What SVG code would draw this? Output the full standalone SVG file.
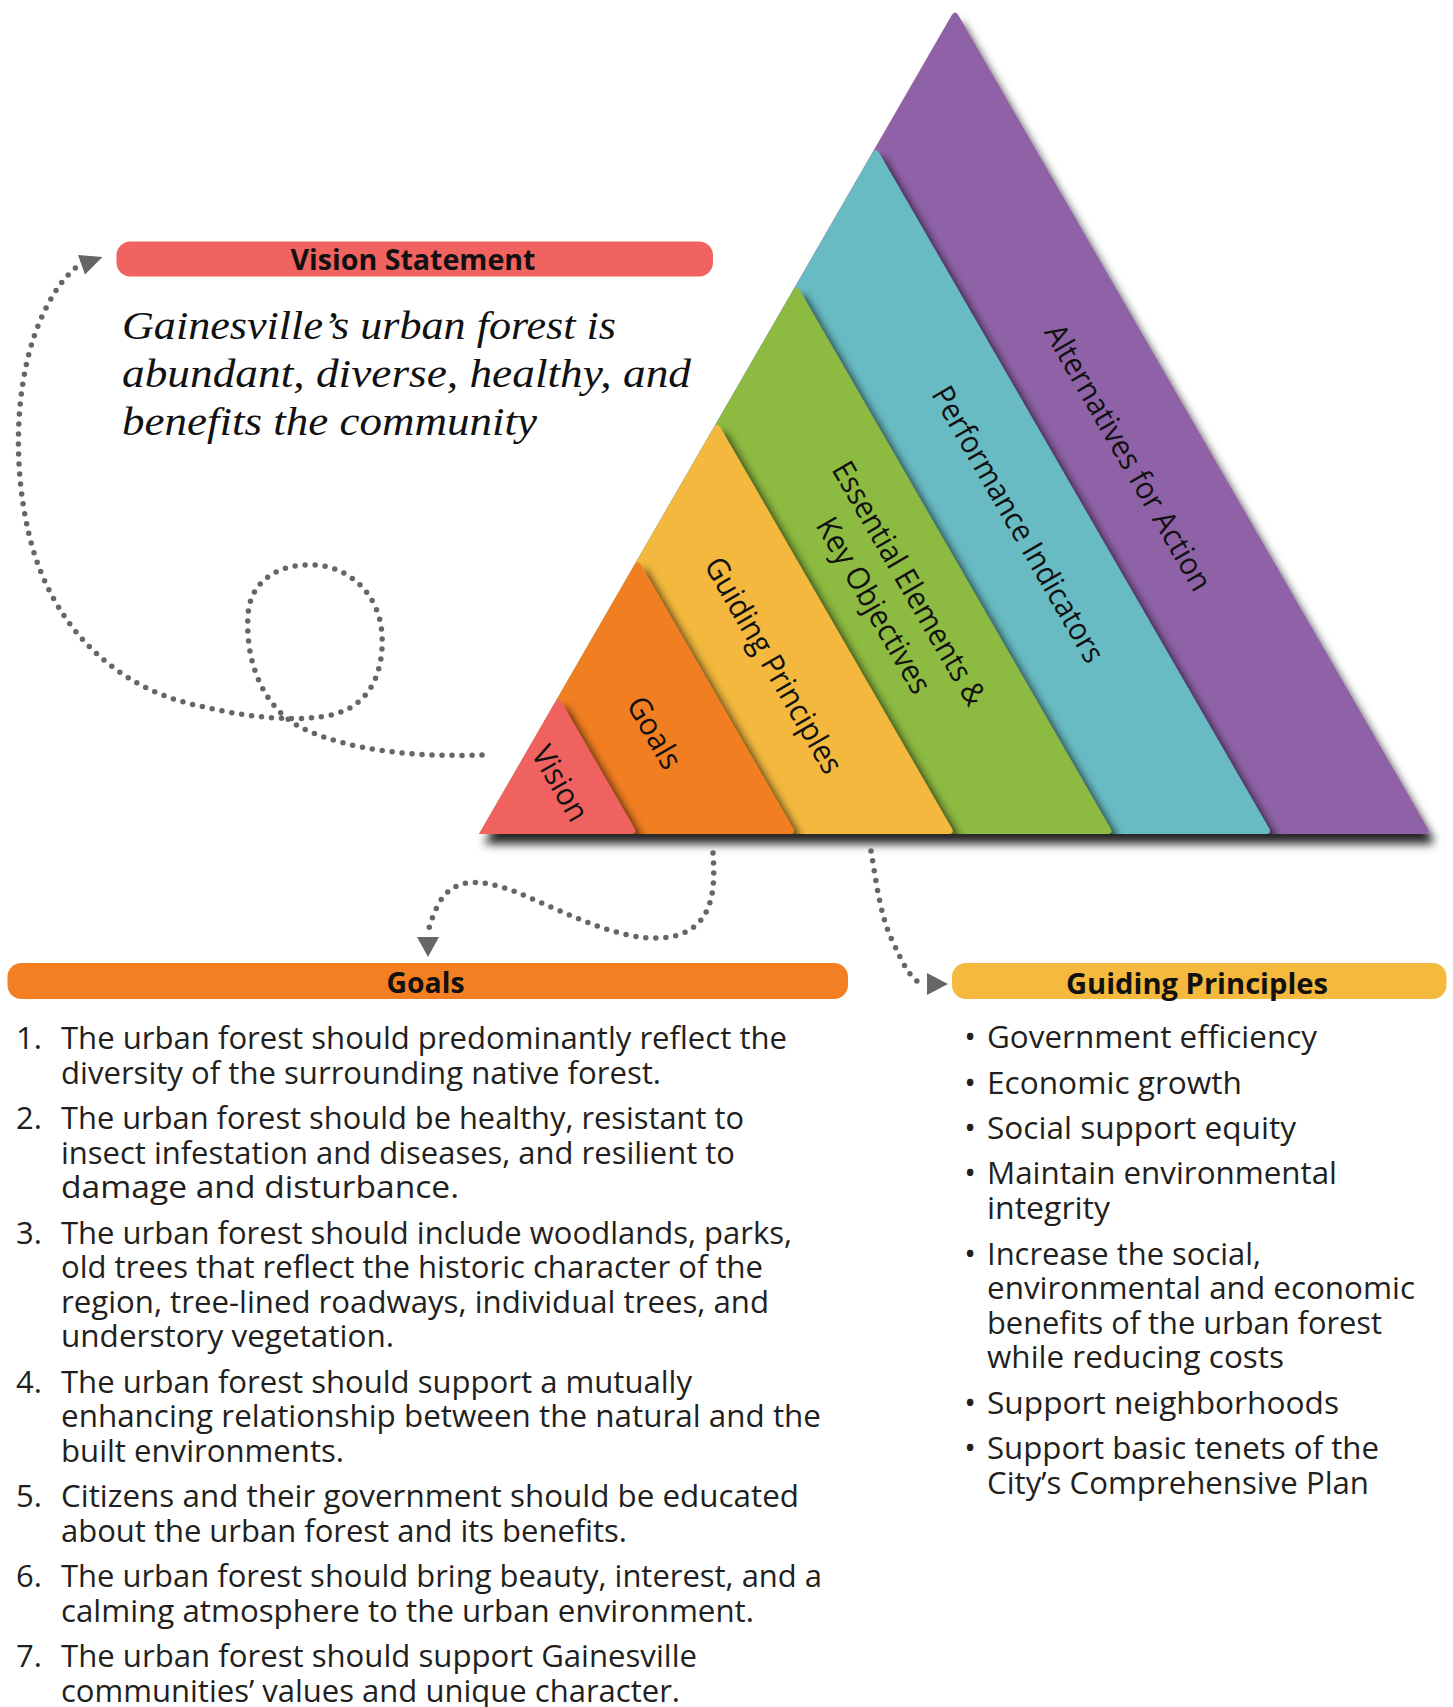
<svg xmlns="http://www.w3.org/2000/svg" width="1453" height="1707" viewBox="0 0 1453 1707">
<style>
.band{filter:url(#ds)}
.lbl{font-family:"Open Sans","Noto Sans",sans-serif;font-size:31px;fill:#111}
.hdr{font-family:"Open Sans","Noto Sans",sans-serif;font-weight:700;font-size:28px;fill:#111}
.body{font-family:"Open Sans","Noto Sans",sans-serif;font-size:31px;fill:#231f20}
.quote{font-family:"Liberation Serif",serif;font-style:italic;font-size:40px;fill:#111}
.dots{fill:none;stroke:#666;stroke-width:5.5;stroke-linecap:round;stroke-dasharray:0 10}
.ah{fill:#666}
</style>
<defs>
<filter id="ds" x="-5%" y="-5%" width="115%" height="115%">
<feDropShadow dx="6" dy="7" stdDeviation="4" flood-color="#000" flood-opacity="0.7"/>
</filter>
<filter id="dsOuter" x="-5%" y="-5%" width="115%" height="115%">
<feDropShadow dx="5" dy="10" stdDeviation="5" flood-color="#000" flood-opacity="0.85"/>
</filter>
<clipPath id="tri">
<path d="M 479 834 L 1424 834 Q 1431 834 1427.5 827.94 L 958.5 15.6 Q 955 9.54 951.5 15.6 Z"/>
</clipPath>
</defs>

<g id="pyramid">
<g id="band-alternatives">
<path fill="#8F62A8" filter="url(#dsOuter)" d="M 479 834 L 1424 834 Q 1431 834 1427.5 827.94 L 958.5 15.6 Q 955 9.54 951.5 15.6 Z"/>
</g>
<g clip-path="url(#tri)">
<g id="band-performance">
<path class="band" fill="#68BBC3" d="M 479 834 L 1265.33 834 Q 1272.33 834 1268.83 827.94 L 879.17 153.01 Q 875.67 146.95 872.17 153.01 Z"/>
</g>
<g id="band-essential">
<path class="band" fill="#8DBA3F" d="M 479 834 L 1106.67 834 Q 1113.67 834 1110.17 827.94 L 799.83 290.42 Q 796.33 284.36 792.83 290.42 Z"/>
</g>
<g id="band-guiding">
<path class="band" fill="#F3B83D" d="M 479 834 L 948 834 Q 955 834 951.5 827.94 L 720.5 427.83 Q 717 421.77 713.5 427.83 Z"/>
</g>
<g id="band-goals">
<path class="band" fill="#F27E22" d="M 479 834 L 789.33 834 Q 796.33 834 792.83 827.94 L 641.17 565.24 Q 637.67 559.18 634.17 565.24 Z"/>
</g>
<g id="band-vision">
<path class="band" fill="#F06260" d="M 479 834 L 630.67 834 Q 637.67 834 634.17 827.94 L 561.83 702.65 Q 558.33 696.59 554.83 702.65 Z"/>
</g>
</g>
<g id="band-labels">
<text class="lbl" text-anchor="middle" transform="translate(1127 458) rotate(60)" dy="0.3em" textLength="302" lengthAdjust="spacingAndGlyphs">Alternatives for Action</text>
<text class="lbl" text-anchor="middle" transform="translate(1017 525) rotate(60)" dy="0.3em" textLength="313" lengthAdjust="spacingAndGlyphs">Performance Indicators</text>
<text class="lbl" text-anchor="middle" transform="translate(908 584) rotate(60)" dy="0.3em" textLength="276" lengthAdjust="spacingAndGlyphs">Essential Elements &amp;</text>
<text class="lbl" text-anchor="middle" transform="translate(872.5 606) rotate(60)" dy="0.3em" textLength="198" lengthAdjust="spacingAndGlyphs">Key Objectives</text>
<text class="lbl" text-anchor="middle" transform="translate(772.5 666) rotate(60)" dy="0.3em" textLength="244" lengthAdjust="spacingAndGlyphs">Guiding Principles</text>
<text class="lbl" text-anchor="middle" transform="translate(653.3 733.3) rotate(60)" dy="0.3em" textLength="78" lengthAdjust="spacingAndGlyphs">Goals</text>
<text class="lbl" text-anchor="middle" transform="translate(559 784) rotate(60)" dy="0.3em" textLength="82" lengthAdjust="spacingAndGlyphs">Vision</text>
</g>
</g>

<g id="connectors">
<path class="dots" d="M 482 755 C 420 757, 350 752, 300 727 C 265 708, 245 665, 248 615 C 250 580, 280 563, 315 565 C 350 567, 380 595, 382 635 C 384 675, 368 705, 335 714 C 300 723, 250 718, 200 706 C 120 690, 50 630, 28 530 C 12 460, 15 370, 45 310 C 55 290, 65 276, 79 265"/>
<polygon class="ah" points="78,255 102.5,257 85,274.5"/>
<path class="dots" d="M 713 853 C 715 885, 717 935, 660 938 C 620 940, 570 915, 530 898 C 490 880, 455 872, 438 905 C 432 917, 429 927, 428 933"/>
<polygon class="ah" points="417,937 439,937 428,957"/>
<path class="dots" d="M 871 851 C 876 880, 880 915, 892 940 C 902 962, 910 978, 920 983"/>
<polygon class="ah" points="927,973 927,995 948,984"/>
</g>

<g id="vision-statement">
<rect x="116.5" y="241.5" width="596.5" height="35" rx="14" fill="#F16361"/>
<text class="hdr" x="413" y="270" text-anchor="middle" textLength="245" lengthAdjust="spacingAndGlyphs">Vision Statement</text>
<text class="quote" x="122" y="339" textLength="494" lengthAdjust="spacingAndGlyphs">Gainesville’s urban forest is</text>
<text class="quote" x="122" y="387" textLength="569" lengthAdjust="spacingAndGlyphs">abundant, diverse, healthy, and</text>
<text class="quote" x="122" y="435" textLength="415" lengthAdjust="spacingAndGlyphs">benefits the community</text>
</g>

<g id="goals">
<rect x="7.5" y="963" width="840.5" height="36" rx="14" fill="#F47F22"/>
<text class="hdr" x="425.5" y="993" text-anchor="middle" textLength="78" lengthAdjust="spacingAndGlyphs">Goals</text>
<g class="body">
<text x="16" y="1049">1.</text>
<text x="61" y="1049" textLength="726" lengthAdjust="spacingAndGlyphs">The urban forest should predominantly reflect the</text>
<text x="61" y="1083.5" textLength="600" lengthAdjust="spacingAndGlyphs">diversity of the surrounding native forest.</text>
<text x="16" y="1129">2.</text>
<text x="61" y="1129" textLength="683" lengthAdjust="spacingAndGlyphs">The urban forest should be healthy, resistant to</text>
<text x="61" y="1163.5" textLength="674" lengthAdjust="spacingAndGlyphs">insect infestation and diseases, and resilient to</text>
<text x="61" y="1198" textLength="398" lengthAdjust="spacingAndGlyphs">damage and disturbance.</text>
<text x="16" y="1243.5">3.</text>
<text x="61" y="1243.5" textLength="731" lengthAdjust="spacingAndGlyphs">The urban forest should include woodlands, parks,</text>
<text x="61" y="1278" textLength="702" lengthAdjust="spacingAndGlyphs">old trees that reflect the historic character of the</text>
<text x="61" y="1312.5" textLength="708" lengthAdjust="spacingAndGlyphs">region, tree-lined roadways, individual trees, and</text>
<text x="61" y="1347" textLength="333" lengthAdjust="spacingAndGlyphs">understory vegetation.</text>
<text x="16" y="1392.5">4.</text>
<text x="61" y="1392.5" textLength="631" lengthAdjust="spacingAndGlyphs">The urban forest should support a mutually</text>
<text x="61" y="1427" textLength="760" lengthAdjust="spacingAndGlyphs">enhancing relationship between the natural and the</text>
<text x="61" y="1461.5" textLength="283" lengthAdjust="spacingAndGlyphs">built environments.</text>
<text x="16" y="1507">5.</text>
<text x="61" y="1507" textLength="738" lengthAdjust="spacingAndGlyphs">Citizens and their government should be educated</text>
<text x="61" y="1541.5" textLength="566" lengthAdjust="spacingAndGlyphs">about the urban forest and its benefits.</text>
<text x="16" y="1587">6.</text>
<text x="61" y="1587" textLength="761" lengthAdjust="spacingAndGlyphs">The urban forest should bring beauty, interest, and a</text>
<text x="61" y="1621.5" textLength="693" lengthAdjust="spacingAndGlyphs">calming atmosphere to the urban environment.</text>
<text x="16" y="1667">7.</text>
<text x="61" y="1667" textLength="636" lengthAdjust="spacingAndGlyphs">The urban forest should support Gainesville</text>
<text x="61" y="1701.5" textLength="619" lengthAdjust="spacingAndGlyphs">communities’ values and unique character.</text>
</g>
</g>

<g id="guiding-principles">
<rect x="952" y="963" width="494.5" height="36" rx="14" fill="#F4B93D"/>
<text class="hdr" x="1197" y="994" text-anchor="middle" textLength="262" lengthAdjust="spacingAndGlyphs">Guiding Principles</text>
<g class="body">
<text x="970" y="1048" text-anchor="middle">•</text>
<text x="987" y="1048" textLength="330" lengthAdjust="spacingAndGlyphs">Government efficiency</text>
<text x="970" y="1093.5" text-anchor="middle">•</text>
<text x="987" y="1093.5" textLength="255" lengthAdjust="spacingAndGlyphs">Economic growth</text>
<text x="970" y="1139" text-anchor="middle">•</text>
<text x="987" y="1139" textLength="309" lengthAdjust="spacingAndGlyphs">Social support equity</text>
<text x="970" y="1184" text-anchor="middle">•</text>
<text x="987" y="1184" textLength="350" lengthAdjust="spacingAndGlyphs">Maintain environmental</text>
<text x="987" y="1219" textLength="123" lengthAdjust="spacingAndGlyphs">integrity</text>
<text x="970" y="1265" text-anchor="middle">•</text>
<text x="987" y="1265" textLength="274" lengthAdjust="spacingAndGlyphs">Increase the social,</text>
<text x="987" y="1299" textLength="428" lengthAdjust="spacingAndGlyphs">environmental and economic</text>
<text x="987" y="1333.5" textLength="395" lengthAdjust="spacingAndGlyphs">benefits of the urban forest</text>
<text x="987" y="1368" textLength="297" lengthAdjust="spacingAndGlyphs">while reducing costs</text>
<text x="970" y="1413.5" text-anchor="middle">•</text>
<text x="987" y="1413.5" textLength="352" lengthAdjust="spacingAndGlyphs">Support neighborhoods</text>
<text x="970" y="1459" text-anchor="middle">•</text>
<text x="987" y="1459" textLength="392" lengthAdjust="spacingAndGlyphs">Support basic tenets of the</text>
<text x="987" y="1493.5" textLength="382" lengthAdjust="spacingAndGlyphs">City’s Comprehensive Plan</text>
</g>
</g>
</svg>
